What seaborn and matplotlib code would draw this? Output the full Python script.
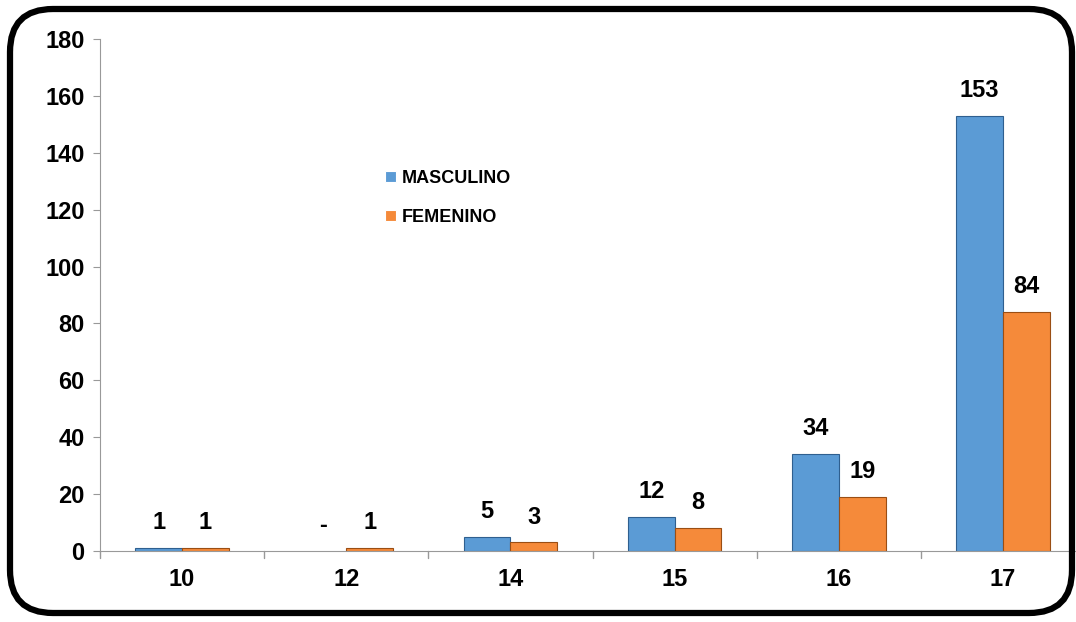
import matplotlib.pyplot as plt
import seaborn as sns
import pandas as pd
from matplotlib.patches import FancyBboxPatch

# Data
edades = ["10", "12", "14", "15", "16", "17"]
masculino = [1, 0, 5, 12, 34, 153]
femenino = [1, 1, 3, 8, 19, 84]
series = ["MASCULINO", "FEMENINO"]
colores = ["#5B9BD5", "#F58A3A"]
bordes = ["#2f5f8f", "#9a4e14"]

df = pd.DataFrame({
    "edad": edades * 2,
    "valor": masculino + femenino,
    "sexo": [series[0]] * len(edades) + [series[1]] * len(edades),
})

sns.set_style("white")
plt.rcParams['font.family'] = ['Liberation Sans', 'DejaVu Sans']
plt.rcParams['text.color'] = 'black'
plt.rcParams['xtick.labelcolor'] = 'black'
plt.rcParams['ytick.labelcolor'] = 'black'

fig = plt.figure(figsize=(10.76, 6.22), dpi=100)
ax = fig.add_axes([100 / 1076, 1 - 551 / 622, 985 / 1076, 512 / 622])

sns.barplot(data=df, x="edad", y="valor", hue="sexo", order=edades,
            hue_order=series, palette=colores, width=0.57, gap=0,
            linewidth=0.8, saturation=1, ax=ax)

# darker edge per series (none on empty bars), value labels
for cont, vals, ec in zip(ax.containers, [masculino, femenino], bordes):
    for bar, v in zip(cont, vals):
        bar.set_edgecolor(ec)
        if v == 0:
            bar.set_linewidth(0)
    labels = ["-" if v == 0 else str(v) for v in vals]
    ax.bar_label(cont, labels=labels, padding=10, fontsize=17, fontweight="bold")

ax.set_ylim(0, 180)
ax.set_yticks(range(0, 181, 20))
ax.set_xlim(-0.5, len(edades) - 0.5)
ax.set_xlabel("")
ax.set_ylabel("")
ax.tick_params(axis="y", labelsize=17, length=5, color="#999999", direction="out", left=True, pad=6)
ax.tick_params(axis="x", labelsize=17, length=0, pad=12)
for t in ax.get_yticklabels() + ax.get_xticklabels():
    t.set_fontweight("bold")

# category separators on x axis
for i in range(len(edades) + 1):
    ax.plot([i - 0.5, i - 0.5], [0, -0.014], transform=ax.get_xaxis_transform(),
            color="#999999", lw=1, clip_on=False)

for s in ["top", "right"]:
    ax.spines[s].set_visible(False)
ax.spines["left"].set_color("#999999")
ax.spines["bottom"].set_color("#999999")

leg = ax.legend(loc="upper left", bbox_to_anchor=(276 / 985, 1 - 122 / 512), frameon=False,
                fontsize=13, handlelength=0.6, handleheight=0.6, handletextpad=0.3,
                labelspacing=1.2, borderpad=0)
for t in leg.get_texts():
    t.set_fontweight("bold")

# rounded outer border
border = FancyBboxPatch((10 / 1076, 9 / 622), 1062 / 1076, 604 / 622,
                        boxstyle="round,pad=0,rounding_size=0.04",
                        transform=fig.transFigure, fill=False, lw=4.5, ec="black",
                        mutation_aspect=1076 / 622)
fig.patches.append(border)

fig.savefig("out.png", dpi=100)
